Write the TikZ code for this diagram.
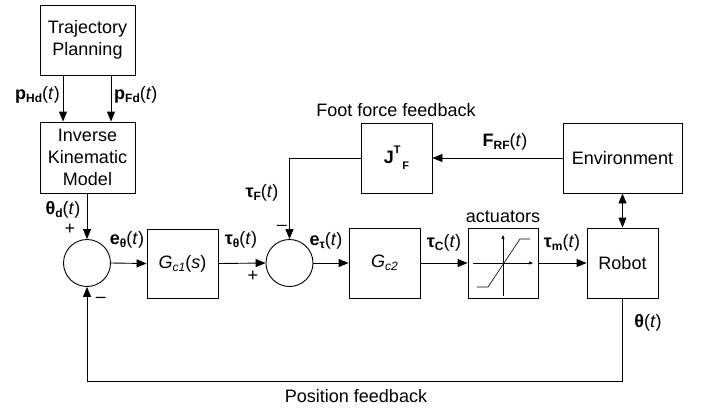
\documentclass[tikz,border=0pt]{standalone}
\usepackage{fontspec}
\setmainfont{Liberation Sans}
\usetikzlibrary{arrows.meta}
\newcommand\sbs[1]{\raisebox{-0.35ex}{\fontsize{12}{12}\selectfont\bfseries #1}}
\newcommand\sbi[1]{\raisebox{-0.35ex}{\fontsize{12}{12}\selectfont\itshape #1}}
\newcommand\sps[1]{\raisebox{1.0ex}{\fontsize{11}{11}\selectfont\bfseries #1}}
\begin{document}
\begin{tikzpicture}[x=1pt,y=-1pt,
  every node/.style={font=\fontsize{18}{22}\selectfont, inner sep=0pt},
  blk/.style={draw, line width=0.9pt, minimum width=71pt, minimum height=70pt, align=center},
  sumc/.style={draw, circle, line width=0.9pt, minimum size=47pt},
  arr/.style={line width=0.9pt, -{Triangle[length=10pt,width=8pt]}},
  arrtwo/.style={line width=0.9pt, {Triangle[length=10pt,width=8pt]}-{Triangle[length=10pt,width=8pt]}},
  ln/.style={line width=0.9pt},
  thin/.style={line width=0.6pt}]
\useasboundingbox (0,0) rectangle (705,408);
% blocks
\node[blk, minimum width=95pt] (TP) at (87.5,40) {Trajectory\\Planning};
\node[blk, minimum width=95pt, minimum height=71pt] (IKM) at (87.5,157.5) {Inverse\\Kinematic\\Model};
\node[sumc] (S1) at (87,263) {};
\node[blk, minimum height=69pt] (G1) at (182.5,263.5) {\textit{G}\sbi{c1}(\textit{s})};
\node[sumc] (S2) at (289.5,263) {};
\node[blk] (G2) at (384.5,263) {\textit{G}\sbi{c2}};
\node[blk, minimum width=70pt] (A) at (503,263) {};
\node[blk] (R) at (622.5,263) {Robot};
\node[blk, minimum width=119pt] (E) at (622.5,158) {Environment};
\node[blk] (J) at (396.5,158) {\textbf{J}\sps{T}\kern0.1em\raisebox{-0.7ex}{\fontsize{11}{11}\selectfont\bfseries F}};
% saturation symbol
\draw[thin, -{Triangle[length=4pt,width=3pt]}] ([shift={(-30,0)}]A.center) -- ([shift={(30,0)}]A.center);
\draw[thin, -{Triangle[length=4pt,width=3pt]}] ([shift={(0,33)}]A.center) -- ([shift={(0,-28)}]A.center);
\draw[thin] ([shift={(-26,24)}]A.center) -- ([shift={(-15,24)}]A.center) -- ([shift={(17,-24)}]A.center) -- ([shift={(27,-24)}]A.center);
% connectors
\draw[arr] ([xshift=-24.5pt]TP.south) -- ([xshift=-24.5pt]IKM.north);
\draw[arr] ([xshift=23.5pt]TP.south) -- ([xshift=23.5pt]IKM.north);
\draw[arr] (IKM.south -| S1.north) -- (S1.north);
\draw[arr] (S1.east) -- (G1.west);
\draw[arr] (G1.east) -- (S2.west);
\draw[arr] (S2.east) -- (G2.west);
\draw[arr] (G2.east) -- (A.west);
\draw[arr] (A.east) -- (R.west);
\draw[arr] (E.west) -- (J.east);
\draw[arr] (J.west) -| (S2.north);
\draw[arrtwo] (E.south) -- (R.north);
\coordinate (FB) at (622.5,381);
\draw[arr] (R.south) -- (FB) -| (S1.south);
% labels
\node[anchor=east] (lpH) at (60,95) {\textbf{p}\sbs{Hd}(\textit{t})};
\node[anchor=west] (lpF) at (114,95) {\textbf{p}\sbs{Fd}(\textit{t})};
\node (lthd) at (63,210) {\textbf{θ}\sbs{d}(\textit{t})};
\node (p1) at (70,229) {+};
\node (m1) at (101,300) {–};
\node (leth) at (127,240) {\textbf{e}\sbs{θ}(\textit{t})};
\node (ltth) at (241,240) {\textbf{τ}\sbs{θ}(\textit{t})};
\node (p2) at (253,276) {+};
\node (m2) at (282,228) {–};
\node (ltF) at (262,193) {\textbf{τ}\sbs{F}(\textit{t})};
\node (letau) at (326,241) {\textbf{e}\sbs{τ}(\textit{t})};
\node (ltC) at (444,243) {\textbf{τ}\sbs{C}(\textit{t})};
\node (ltm) at (562,243) {\textbf{τ}\sbs{m}(\textit{t})};
\node (lact) at (503,217) {actuators};
\node (lFRF) at (505,142) {\textbf{F}\sbs{RF}(\textit{t})};
\node (lfoot) at (396,110) {Foot force feedback};
\node (lth) at (648,323) {\textbf{θ}(\textit{t})};
\node (lpos) at (356,396) {Position feedback};
\end{tikzpicture}
\end{document}
